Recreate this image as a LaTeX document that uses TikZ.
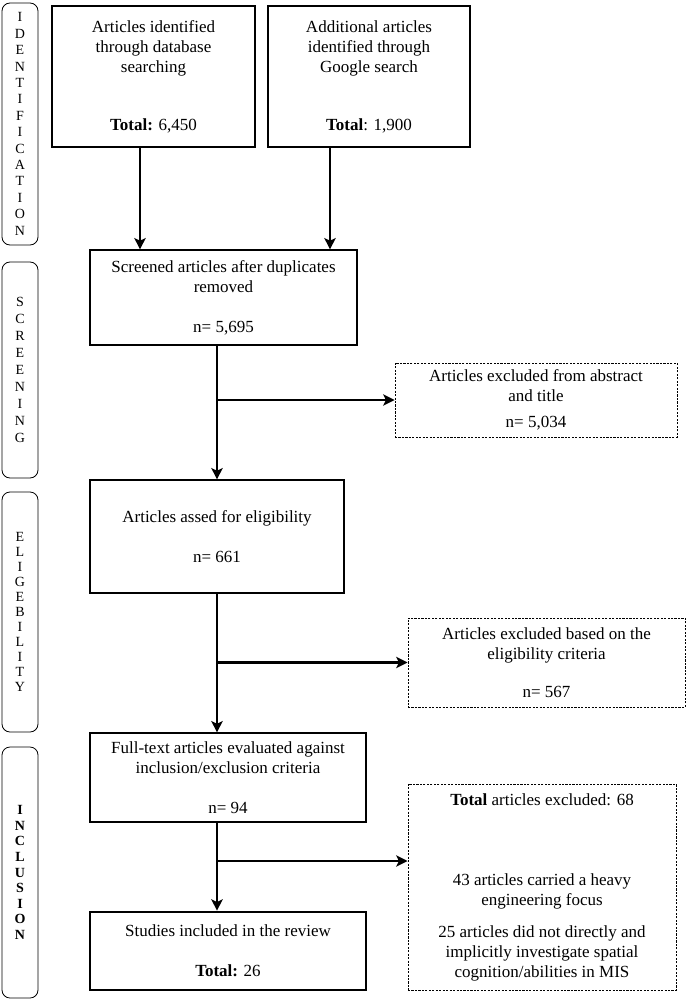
\documentclass[tikz,border=0pt]{standalone}
\usepackage{fontspec}
\setmainfont{Liberation Serif}
\usetikzlibrary{positioning,arrows.meta}

\tikzset{
    stage/.style={draw, rounded corners=6pt, line width=0.6pt, minimum width=27pt, align=center, inner sep=0pt},
    box/.style={draw, line width=0.9pt, align=center, inner sep=0pt, font=\fontsize{12.75}{15}\selectfont},
    exclbox/.style={box, line width=0.7pt, dash pattern=on 1.6pt off 1pt},
    finalbox/.style={box, line width=2pt},
    arr/.style={line width=2pt, -{Stealth[length=8.5pt,width=8.5pt,inset=2pt]}}
}

\begin{document}
\begin{tikzpicture}[x=0.75pt, y=-0.75pt]
    \useasboundingbox (0,0) rectangle (685,1002);

    % Stage labels on the left
    \node[stage, minimum height=181.5pt, font=\fontsize{10.5}{12.3}\selectfont] (idstage) at (20,124)
        {I\\D\\E\\N\\T\\I\\F\\I\\C\\A\\T\\I\\O\\N};
    \node[stage, minimum height=162pt, font=\fontsize{10.5}{12.7}\selectfont] (scrstage) at (20,370)
        {S\\C\\R\\E\\E\\N\\I\\N\\G};
    \node[stage, minimum height=180pt, font=\fontsize{10.5}{11.3}\selectfont] (elgstage) at (20,612)
        {E\\L\\I\\G\\E\\B\\I\\L\\I\\T\\Y};
    \node[stage, minimum height=188.25pt, font=\bfseries\fontsize{10.5}{11.7}\selectfont] (incstage) at (20,872.5)
        {I\\N\\C\\L\\U\\S\\I\\O\\N};

    % Identification
    \node[box, minimum width=152.25pt, minimum height=105.75pt] (db) at (153.5,76.5)
        {Articles identified\\through database\\searching\\[28.5pt]\textbf{Total:} 6,450};
    \node[box, minimum width=151.5pt, minimum height=105.75pt] (google) at (369,76.5)
        {Additional articles\\identified through\\Google search\\[28.5pt]\textbf{Total}: 1,900};

    % Screening
    \node[box, minimum width=200.25pt, minimum height=71.25pt] (screened) at (223.5,297.5)
        {Screened articles after duplicates\\removed\\[15pt]n= 5,695};
    \node[exclbox, minimum width=211.5pt, minimum height=55.5pt] (absexcl) at (536,400)
        {Articles excluded from abstract\\and title\\[4.5pt]n= 5,034};

    % Eligibility
    \node[box, minimum width=190.5pt, minimum height=84.75pt] (elig) at (217,536.5)
        {Articles assed for eligibility\\[15pt]n= 661};
    \node[exclbox, minimum width=207.75pt, minimum height=66.75pt] (eligexcl) at (546.5,662.5)
        {Articles excluded based on the\\eligibility criteria\\[13.5pt]n= 567};

    % Inclusion
    \node[box, minimum width=207pt, minimum height=66.75pt] (fulltext) at (228,777.5)
        {Full-text articles evaluated against\\inclusion/exclusion criteria\\[15pt]n= 94};
    \node[exclbox, minimum width=201pt, minimum height=154.5pt] (incexcl) at (542,887)
        {\textbf{Total} articles excluded: 68\\[45pt]43 articles carried a heavy\\engineering focus\\[9pt]25 articles did not directly and\\implicitly investigate spatial\\cognition/abilities in MIS};
    \node[finalbox, minimum width=207pt, minimum height=58.5pt] (included) at (228,951)
        {Studies included in the review\\[15pt]\textbf{Total:} 26};

    % Arrows
    \coordinate (dbout) at (140,0);
    \coordinate (googleout) at (330,0);
    \draw[arr] (db.south -| dbout) -- (screened.north -| dbout);
    \draw[arr] (google.south -| googleout) -- (screened.north -| googleout);

    \draw[arr] (screened.south -| elig.north) -- (elig.north);
    \coordinate (br1) at (elig.north |- absexcl.west);
    \draw[arr] (br1) -- (absexcl.west);

    \draw[arr] (elig.south) -- (fulltext.north -| elig.south);
    \coordinate (br2) at (elig.south |- eligexcl.west);
    \draw[arr] (br2) -- (eligexcl.west);

    \draw[arr] (fulltext.south -| elig.south) -- (included.north -| elig.south);
    \coordinate (br3) at (217,861);
    \draw[arr] (br3) -- (br3 -| incexcl.west);
\end{tikzpicture}
\end{document}
